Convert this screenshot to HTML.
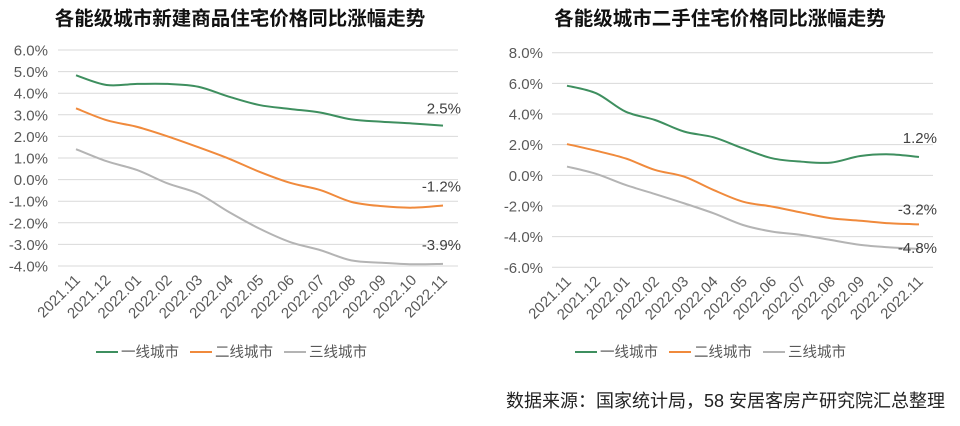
<!DOCTYPE html>
<html><head><meta charset="utf-8"><style>
body{margin:0;background:#fff;}
svg{display:block;font-family:"Liberation Sans","Noto Sans CJK SC",sans-serif;}
</style></head><body>
<svg id="c" width="960" height="426"></svg>
<script>
const categories=["2021.11","2021.12","2022.01","2022.02","2022.03","2022.04","2022.05","2022.06","2022.07","2022.08","2022.09","2022.10","2022.11"];
const seriesNames=["一线城市","二线城市","三线城市"];
const newTier1=[4.83,4.38,4.43,4.43,4.3,3.84,3.45,3.27,3.1,2.79,2.68,2.6,2.5];
const newTier2=[3.3,2.75,2.44,2.0,1.5,0.97,0.36,-0.15,-0.49,-1.03,-1.23,-1.3,-1.2];
const newTier3=[1.41,0.85,0.44,-0.18,-0.65,-1.5,-2.27,-2.89,-3.27,-3.74,-3.85,-3.92,-3.9];
const usedTier1=[5.85,5.35,4.15,3.61,2.85,2.48,1.76,1.11,0.89,0.83,1.26,1.37,1.2];
const usedTier2=[2.04,1.6,1.1,0.35,-0.09,-0.96,-1.72,-2.04,-2.43,-2.8,-2.96,-3.13,-3.2];
const usedTier3=[0.57,0.09,-0.63,-1.22,-1.83,-2.48,-3.24,-3.67,-3.89,-4.22,-4.54,-4.7,-4.8];
const leftTicks=[6,5,4,3,2,1,0,-1,-2,-3,-4];
const rightTicks=[8,6,4,2,0,-2,-4,-6];
const colors=["#3e8f5f","#f08a3c","#b4b4b4"];
const NS="http://www.w3.org/2000/svg";
const svg=document.getElementById('c');
function mk(tag,attrs,parent,text){const e=document.createElementNS(NS,tag);for(const k in attrs)e.setAttribute(k,attrs[k]);if(text!==undefined)e.textContent=text;(parent||svg).appendChild(e);return e;}
function curve(pts){let d=`M${pts[0][0]},${pts[0][1]}`;for(let i=0;i<pts.length-1;i++){const p0=pts[Math.max(i-1,0)],p1=pts[i],p2=pts[i+1],p3=pts[Math.min(i+2,pts.length-1)];const t=6;d+=` C${p1[0]+(p2[0]-p0[0])/t},${p1[1]+(p2[1]-p0[1])/t} ${p2[0]-(p3[0]-p1[0])/t},${p2[1]-(p3[1]-p1[1])/t} ${p2[0]},${p2[1]}`;}return d;}
function chart(o){
  const g=mk('g',{});
  const y=v=>o.yTop+(o.vMax-v)/(o.vMax-o.vMin)*(o.yBot-o.yTop);
  const x=i=>o.x0+i*(o.x1-o.x0)/(categories.length-1);
  const t=mk('text',{x:o.tx,y:25,'text-anchor':'middle','font-size':19.5,'font-weight':'bold',fill:'#111'},g,o.title);
  
  o.ticks.forEach(v=>{
    const l=mk('line',{x1:o.gx0,x2:o.gx1,y1:y(v),y2:y(v),stroke:'#d9d9d9','stroke-width':1},g);
    
    const tl=mk('text',{x:o.lx,y:y(v)+5.5,'text-anchor':'end','font-size':15,fill:'#595959'},g,v.toFixed(1)+'%');
    
  });
  categories.forEach((c,i)=>{
    const tl=mk('text',{x:x(i)+5,y:o.yBot+15,'text-anchor':'end','font-size':15,fill:'#595959',transform:`rotate(-45 ${x(i)+5} ${o.yBot+15})`},g,c);
    
  });
  o.series.forEach((s,k)=>{
    const p=mk('path',{d:curve(s.map((v,i)=>[x(i),y(v)])),fill:'none',stroke:colors[k],'stroke-width':2},g);
    
    const last=s[s.length-1];
    const vl=mk('text',{x:x(s.length-1)+18,y:y(last)+o.labOff[k],'text-anchor':'end','font-size':15,fill:'#404040'},g,last.toFixed(1)+'%');
    
  });
  seriesNames.forEach((n,k)=>{
    const lx=o.legX+k*94;
    const l=mk('line',{x1:lx,x2:lx+22,y1:352,y2:352,stroke:colors[k],'stroke-width':2},g);
    
    const tl=mk('text',{x:lx+25,y:357,'font-size':14.5,fill:'#595959'},g,n);
    
  });
}
chart({name:'new-home-chart',title:'各能级城市新建商品住宅价格同比涨幅走势',tx:240,yTop:50,yBot:266,vMax:6,vMin:-4,x0:76,x1:443,gx0:58,gx1:458,lx:48,ticks:leftTicks,series:[newTier1,newTier2,newTier3],labOff:[-12,-14,-14],legX:96});
chart({name:'second-hand-chart',title:'各能级城市二手住宅价格同比涨幅走势',tx:720,yTop:52.7,yBot:267.3,vMax:8,vMin:-6,x0:567,x1:919,gx0:552,gx1:933,lx:543,ticks:rightTicks,series:[usedTier1,usedTier2,usedTier3],labOff:[-14,-10,4],legX:575});
const src=mk('text',{x:945,y:407,'text-anchor':'end','font-size':18,fill:'#222'},svg,'数据来源：国家统计局，58 安居客房产研究院汇总整理');


</script>
</body></html>
